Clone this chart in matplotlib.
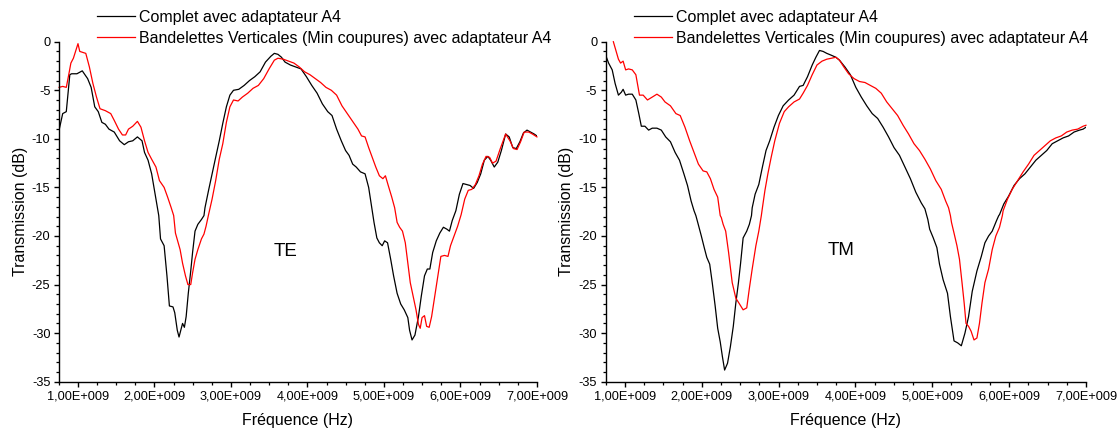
import matplotlib
matplotlib.use("Agg")
import matplotlib.pyplot as plt
from matplotlib.ticker import MultipleLocator, FuncFormatter

plt.rcParams['font.family'] = ['Liberation Sans', 'DejaVu Sans']
plt.rcParams['axes.unicode_minus'] = False

# frequencies in GHz, transmission in dB

# TE - Complet avec adaptateur A4
te_full_f = [0.753, 0.800, 0.847, 0.893, 0.916, 0.986, 1.056, 1.126, 1.172, 1.219,
             1.265, 1.312, 1.358, 1.405, 1.474, 1.544, 1.605, 1.660, 1.716, 1.777,
             1.837, 1.870, 1.916, 1.963, 2.023, 2.056, 2.079, 2.126, 2.163, 2.195,
             2.242, 2.265, 2.298, 2.321, 2.344, 2.367, 2.391, 2.414, 2.442, 2.474,
             2.498, 2.530, 2.567, 2.614, 2.647, 2.660, 2.707, 2.753, 2.800, 2.847,
             2.893, 2.940, 2.986, 3.033, 3.102, 3.172, 3.242, 3.312, 3.381, 3.451,
             3.521, 3.567, 3.614, 3.660, 3.707, 3.777, 3.847, 3.916, 3.986, 4.056,
             4.126, 4.195, 4.265, 4.321, 4.381, 4.442, 4.498, 4.544, 4.591, 4.637,
             4.693, 4.753, 4.800, 4.833, 4.856, 4.870, 4.907, 4.940, 4.977, 5.009,
             5.047, 5.088, 5.126, 5.172, 5.219, 5.265, 5.312, 5.335, 5.367, 5.405,
             5.451, 5.488, 5.530, 5.567, 5.600, 5.637, 5.684, 5.730, 5.777, 5.823,
             5.856, 5.893, 5.916, 5.940, 5.986, 6.033, 6.079, 6.126, 6.172, 6.219,
             6.265, 6.312, 6.358, 6.395, 6.442, 6.488, 6.535, 6.591, 6.637, 6.684,
             6.730, 6.777, 6.823, 6.870, 6.916, 6.963, 7.000]
te_full_db = [-9.1, -7.4, -7.2, -3.4, -3.3, -3.3, -3.0, -3.8, -4.7, -6.7,
              -7.2, -8.3, -8.5, -9.0, -9.3, -10.2, -10.6, -10.3, -10.2, -9.8,
              -10.2, -11.4, -12.2, -13.6, -16.4, -17.9, -20.3, -21.0, -24.1, -27.2,
              -27.3, -27.9, -29.7, -30.4, -29.7, -29.0, -29.4, -28.3, -25.9, -23.6,
              -21.7, -19.5, -18.8, -18.3, -17.9, -17.1, -15.3, -13.6, -11.9, -10.2,
              -8.4, -6.7, -5.5, -5.0, -4.9, -4.5, -4.0, -3.6, -3.1, -2.1,
              -1.5, -1.2, -1.3, -1.6, -2.1, -2.4, -2.6, -2.8, -3.6, -4.5,
              -5.3, -6.4, -7.2, -7.6, -9.0, -10.2, -11.2, -11.7, -12.6, -12.9,
              -13.4, -13.6, -15.0, -16.7, -17.9, -18.6, -20.2, -20.7, -21.0, -20.5,
              -20.7, -22.4, -24.1, -25.9, -27.0, -27.6, -28.4, -29.7, -30.7, -30.2,
              -28.3, -26.2, -24.1, -23.4, -23.4, -21.7, -20.5, -19.7, -19.1, -19.3,
              -19.5, -18.4, -17.9, -17.4, -15.7, -14.6, -14.7, -14.8, -15.1, -14.5,
              -13.6, -12.2, -11.8, -12.2, -12.9, -12.4, -11.2, -9.5, -9.8, -10.9,
              -11.0, -10.3, -9.4, -9.1, -9.3, -9.5, -9.7]

# TE - Bandelettes Verticales
te_band_f = [0.753, 0.800, 0.847, 0.879, 0.907, 0.940, 0.972, 1.000, 1.023, 1.065,
             1.102, 1.149, 1.195, 1.242, 1.288, 1.358, 1.428, 1.474, 1.530, 1.581,
             1.623, 1.660, 1.716, 1.777, 1.823, 1.870, 1.916, 1.963, 2.019, 2.065,
             2.126, 2.172, 2.219, 2.251, 2.274, 2.302, 2.335, 2.367, 2.405, 2.437,
             2.474, 2.498, 2.530, 2.567, 2.614, 2.647, 2.674, 2.707, 2.753, 2.800,
             2.847, 2.893, 2.940, 2.986, 3.033, 3.093, 3.149, 3.219, 3.288, 3.358,
             3.428, 3.498, 3.567, 3.614, 3.684, 3.753, 3.823, 3.893, 3.963, 4.033,
             4.102, 4.172, 4.242, 4.312, 4.381, 4.451, 4.521, 4.591, 4.660, 4.707,
             4.753, 4.800, 4.847, 4.893, 4.940, 4.986, 5.019, 5.056, 5.102, 5.140,
             5.172, 5.205, 5.242, 5.279, 5.312, 5.344, 5.381, 5.419, 5.451, 5.474,
             5.498, 5.530, 5.558, 5.591, 5.623, 5.660, 5.707, 5.744, 5.791, 5.837,
             5.870, 5.916, 5.963, 6.009, 6.056, 6.102, 6.149, 6.195, 6.242, 6.288,
             6.335, 6.381, 6.419, 6.465, 6.521, 6.591, 6.647, 6.693, 6.740, 6.786,
             6.833, 6.893, 6.940, 7.000]
te_band_db = [-4.7, -4.6, -4.7, -3.4, -2.2, -1.7, -0.9, -0.2, -1.0, -1.1,
              -1.2, -2.6, -4.3, -5.7, -6.9, -7.1, -7.4, -8.1, -9.0, -9.6,
              -9.6, -9.0, -8.7, -8.2, -8.8, -10.2, -11.4, -12.1, -12.9, -14.3,
              -15.0, -16.0, -17.1, -17.9, -19.7, -20.5, -21.4, -22.8, -24.1, -25.0,
              -25.0, -23.8, -22.4, -21.4, -20.3, -19.8, -19.0, -17.8, -16.2, -14.3,
              -12.1, -10.5, -8.3, -6.7, -6.0, -6.1, -5.7, -5.3, -4.8, -4.5,
              -3.8, -2.8, -1.9, -1.7, -1.8, -2.0, -2.2, -2.6, -3.1, -3.4,
              -3.8, -4.2, -4.7, -5.0, -5.5, -6.6, -7.4, -8.2, -9.0, -9.7,
              -9.8, -10.9, -11.9, -12.9, -13.8, -14.1, -13.8, -14.8, -16.0, -17.1,
              -18.6, -19.1, -19.5, -20.7, -22.8, -24.8, -26.2, -27.6, -29.1, -29.5,
              -28.4, -28.2, -29.3, -29.4, -28.3, -26.4, -24.0, -22.1, -22.0, -22.1,
              -21.0, -20.0, -19.0, -17.8, -16.2, -15.3, -15.2, -14.7, -13.8, -12.6,
              -11.8, -11.9, -12.5, -12.3, -11.0, -9.5, -10.2, -11.0, -11.1, -10.3,
              -9.3, -9.3, -9.5, -9.8]

# TM - Complet avec adaptateur A4
tm_full_f = [0.740, 0.787, 0.834, 0.872, 0.915, 0.953, 0.976, 1.009, 1.047, 1.095,
             1.142, 1.180, 1.213, 1.260, 1.308, 1.355, 1.416, 1.473, 1.530, 1.592,
             1.653, 1.710, 1.767, 1.814, 1.861, 1.899, 1.923, 1.947, 1.994, 2.032,
             2.065, 2.103, 2.136, 2.174, 2.207, 2.240, 2.268, 2.297, 2.335, 2.372,
             2.410, 2.443, 2.477, 2.505, 2.538, 2.585, 2.619, 2.647, 2.656, 2.694,
             2.742, 2.789, 2.836, 2.884, 2.940, 2.997, 3.059, 3.130, 3.201, 3.272,
             3.319, 3.376, 3.437, 3.485, 3.532, 3.579, 3.627, 3.688, 3.745, 3.792,
             3.863, 3.934, 4.005, 4.076, 4.147, 4.218, 4.289, 4.360, 4.431, 4.502,
             4.573, 4.644, 4.715, 4.786, 4.857, 4.904, 4.928, 4.942, 4.966, 5.013,
             5.060, 5.094, 5.141, 5.198, 5.236, 5.283, 5.330, 5.378, 5.425, 5.472,
             5.520, 5.581, 5.638, 5.685, 5.733, 5.780, 5.837, 5.865, 5.875, 5.931,
             5.993, 6.064, 6.135, 6.206, 6.277, 6.348, 6.419, 6.490, 6.561, 6.632,
             6.703, 6.774, 6.845, 6.916, 6.963, 7.000]
tm_full_db = [-1.2, -2.2, -2.9, -4.3, -5.5, -5.2, -4.9, -5.5, -5.4, -5.4,
              -6.0, -7.4, -8.7, -8.7, -9.1, -8.9, -8.9, -9.1, -9.8, -10.3,
              -11.4, -12.2, -13.6, -14.8, -16.4, -17.4, -17.9, -18.6, -20.0, -21.2,
              -22.2, -22.9, -24.8, -27.2, -29.5, -30.9, -32.4, -33.8, -33.1, -31.4,
              -29.3, -26.9, -24.8, -22.8, -20.2, -19.5, -18.8, -17.9, -17.1, -15.7,
              -14.7, -12.9, -11.2, -10.2, -8.8, -7.6, -6.6, -6.0, -5.5, -4.6,
              -4.5, -3.6, -2.4, -1.6, -0.9, -1.0, -1.2, -1.4, -1.6, -1.9,
              -2.6, -3.4, -4.7, -5.7, -6.6, -7.4, -7.9, -8.8, -9.8, -10.9,
              -11.7, -12.9, -14.1, -15.5, -16.6, -17.2, -17.9, -18.3, -19.3, -20.2,
              -21.2, -22.9, -24.5, -25.9, -28.3, -30.8, -31.0, -31.3, -30.0, -28.3,
              -25.7, -23.6, -22.1, -20.7, -20.0, -19.5, -18.4, -17.9, -17.8, -16.7,
              -15.9, -14.8, -14.1, -13.6, -12.9, -12.2, -11.7, -11.2, -10.5, -10.2,
              -9.9, -9.7, -9.3, -9.1, -9.0, -8.8]

# TM - Bandelettes Verticales
tm_band_f = [0.849, 0.882, 0.915, 0.943, 0.976, 1.009, 1.047, 1.095, 1.142, 1.189,
             1.237, 1.293, 1.355, 1.416, 1.473, 1.521, 1.592, 1.663, 1.719, 1.781,
             1.842, 1.899, 1.956, 2.017, 2.065, 2.112, 2.159, 2.207, 2.240, 2.254,
             2.278, 2.311, 2.349, 2.396, 2.443, 2.491, 2.538, 2.585, 2.619, 2.656,
             2.704, 2.742, 2.775, 2.789, 2.822, 2.860, 2.903, 2.950, 3.011, 3.073,
             3.130, 3.201, 3.272, 3.319, 3.376, 3.437, 3.499, 3.565, 3.627, 3.688,
             3.745, 3.792, 3.849, 3.911, 3.982, 4.053, 4.124, 4.194, 4.265, 4.336,
             4.407, 4.478, 4.549, 4.620, 4.691, 4.762, 4.833, 4.904, 4.975, 5.046,
             5.117, 5.174, 5.212, 5.236, 5.250, 5.283, 5.321, 5.354, 5.387, 5.415,
             5.439, 5.472, 5.505, 5.543, 5.581, 5.614, 5.647, 5.685, 5.733, 5.780,
             5.827, 5.875, 5.912, 5.922, 5.979, 6.040, 6.111, 6.182, 6.253, 6.324,
             6.395, 6.466, 6.537, 6.608, 6.679, 6.750, 6.821, 6.892, 6.963, 7.000]
tm_band_db = [0.0, -0.9, -1.8, -2.2, -2.0, -2.9, -2.8, -2.9, -3.4, -5.5,
              -5.5, -6.0, -5.7, -5.4, -5.7, -6.2, -6.6, -7.4, -7.6, -8.8,
              -10.2, -11.4, -12.6, -13.3, -13.4, -14.1, -15.2, -16.0, -17.9, -18.1,
              -18.8, -19.5, -21.7, -24.8, -26.4, -27.0, -27.6, -27.4, -25.4, -23.4,
              -21.0, -19.5, -17.9, -17.1, -15.3, -13.6, -11.9, -10.2, -8.4, -7.2,
              -6.7, -6.2, -5.9, -5.3, -4.5, -3.4, -2.4, -2.0, -1.8, -1.7,
              -1.6, -1.9, -2.6, -3.3, -3.8, -4.1, -4.2, -4.5, -4.8, -5.3,
              -6.2, -6.9, -7.6, -8.6, -9.5, -10.5, -11.2, -12.1, -13.1, -14.3,
              -15.2, -16.4, -17.1, -17.9, -18.6, -19.7, -21.0, -22.4, -24.8, -26.9,
              -29.0, -29.3, -29.8, -30.7, -30.5, -29.0, -26.9, -24.8, -23.4, -21.4,
              -20.0, -19.1, -17.9, -17.4, -16.2, -15.2, -14.3, -13.4, -12.6, -11.7,
              -11.2, -10.7, -10.2, -9.9, -9.7, -9.3, -9.1, -9.0, -8.7, -8.6]

series_labels = ["Complet avec adaptateur A4",
                 "Bandelettes Verticales (Min coupures) avec adaptateur A4"]
panel_names = ["TE", "TM"]


def freq_fmt(v, pos):
    return ("%.2f" % (v / 1e9)).replace('.', ',') + "E+009"


fig = plt.figure(figsize=(11.17, 4.30), dpi=100)
ax1 = fig.add_axes([0.0527, 0.1123, 0.428, 0.7907])
ax2 = fig.add_axes([0.5423, 0.1123, 0.4299, 0.7907])

panels = [
    (ax1, te_full_f, te_full_db, te_band_f, te_band_db, panel_names[0], (3.71e9, -21.6), 97),
    (ax2, tm_full_f, tm_full_db, tm_band_f, tm_band_db, panel_names[1], (3.81e9, -21.5), 634),
]

for ax, f1, d1, f2, d2, name, pos, leg_x in panels:
    ax.plot([f * 1e9 for f in f1], d1, color='black', linewidth=0.9, label=series_labels[0])
    ax.plot([f * 1e9 for f in f2], d2, color='#ff0000', linewidth=0.9, label=series_labels[1],
            clip_on=False)

    ax.set_xlim(0.75e9, 7e9)
    ax.set_ylim(-35, 0)
    ax.xaxis.set_major_locator(MultipleLocator(1e9))
    ax.xaxis.set_minor_locator(MultipleLocator(0.25e9))
    ax.yaxis.set_major_locator(MultipleLocator(5))
    ax.yaxis.set_minor_locator(MultipleLocator(1))
    ax.xaxis.set_major_formatter(FuncFormatter(freq_fmt))

    for s in ['top', 'right']:
        ax.spines[s].set_visible(False)
    for s in ['left', 'bottom']:
        ax.spines[s].set_linewidth(1.0)

    ax.tick_params(which='major', direction='out', length=3.6, width=1.0, labelsize=9.2, pad=2.5)
    ax.tick_params(which='minor', direction='out', length=2.3, width=0.9)

    ax.set_xlabel("Fréquence (Hz)", fontsize=11.5, labelpad=8)
    ax.set_ylabel("Transmission (dB)", fontsize=11.5, labelpad=3)

    ax.text(pos[0], pos[1], name, fontsize=13.5, ha='center', va='center')

    ax.legend(loc='upper left', bbox_to_anchor=(leg_x / 1117, 0.977),
              bbox_transform=fig.transFigure, frameon=False, fontsize=11.5,
              handlelength=2.35, handletextpad=0.31, labelspacing=0.38,
              borderpad=0, borderaxespad=0)

fig.savefig("out.png", dpi=100)
